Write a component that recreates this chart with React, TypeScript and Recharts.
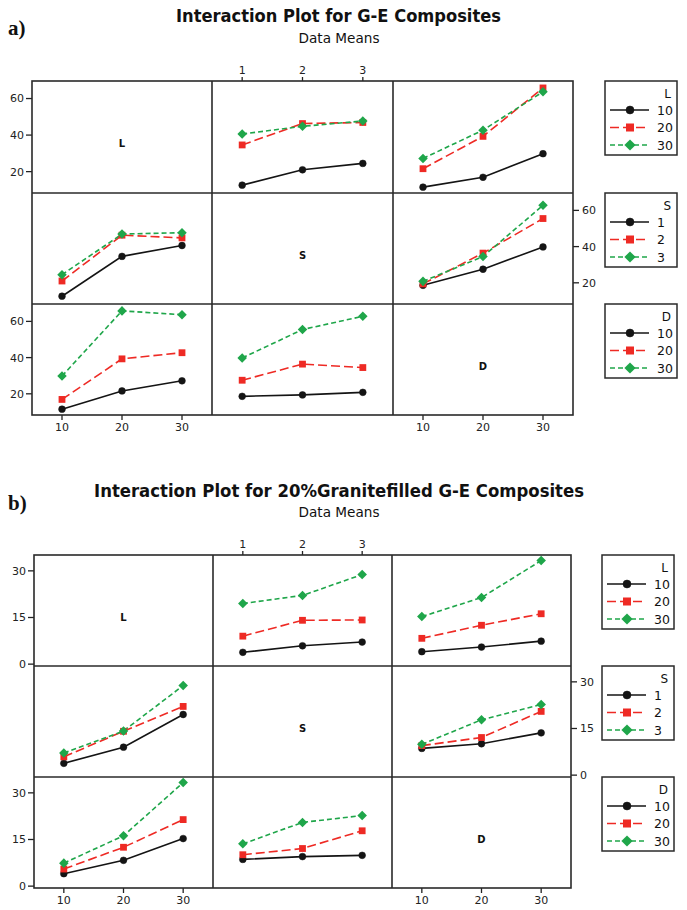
import React from 'react';
import { LineChart, Line, XAxis, YAxis } from 'recharts';

// ---------- data ----------
const factorNames = ['L', 'S', 'D'];
const levelsL = [10, 20, 30];
const levelsS = [1, 2, 3];
const levelsD = [10, 20, 30];
const factorLevels = [levelsL, levelsS, levelsD];

// a) G-E composites – cell means (rows: first factor level, cols: second factor level)
const aMeansLS = [[12.6, 21.0, 24.5], [34.6, 46.3, 46.9], [40.6, 44.8, 47.7]];
const aMeansLD = [[11.5, 16.9, 29.8], [21.6, 39.3, 65.8], [27.2, 42.7, 63.7]];
const aMeansSD = [[18.6, 27.5, 39.8], [19.4, 36.4, 55.5], [20.8, 34.5, 62.8]];
const aYTicks = [20, 40, 60];
const aYDomain = [8.3, 69.6];

// b) 20% granite filled G-E composites
const bMeansLS = [[3.8, 5.9, 7.1], [9.0, 14.1, 14.2], [19.5, 22.1, 28.8]];
const bMeansLD = [[4.0, 5.5, 7.4], [8.3, 12.5, 16.2], [15.3, 21.4, 33.3]];
const bMeansSD = [[8.6, 10.1, 13.6], [9.5, 12.1, 20.5], [9.9, 17.8, 22.7]];
const bYTicks = [0, 15, 30];
const bYDomain = [-0.6, 35.1];

const titleA = 'Interaction Plot for G-E Composites';
const titleB = 'Interaction Plot for 20%Granitefilled G-E Composites';
const subTitle = 'Data Means';

// ---------- styles ----------
const FONT = '"DejaVu Sans", Verdana, sans-serif';
const seriesColors = ['#141414', '#ee2a24', '#1fa64a'];
const seriesDashes = ['', '9 4', '5 3'];
const seriesShapes = ['circle', 'square', 'diamond'];
const frameColor = '#2a2a2a';

type Fig = {
  tables: Record<string, number[][]>;
  colEdges: number[];
  rowEdges: number[];
  yDomain: number[];
  yTicks: number[];
  title: string;
  titleX: number;
  titleW: number;
  titleY: number;
  subY: number;
  tag: string;
  tagY: number;
  legendX: number;
};

const figures: Fig[] = [
  {
    tables: { '01': aMeansLS, '02': aMeansLD, '12': aMeansSD },
    colEdges: [32, 212, 393, 573],
    rowEdges: [81, 193, 304, 415],
    yDomain: aYDomain,
    yTicks: aYTicks,
    title: titleA,
    titleX: 176,
    titleW: 325,
    titleY: 22,
    subY: 43,
    tag: 'a)',
    tagY: 35,
    legendX: 605,
  },
  {
    tables: { '01': bMeansLS, '02': bMeansLD, '12': bMeansSD },
    colEdges: [34, 213, 392, 571],
    rowEdges: [555, 666, 777, 888],
    yDomain: bYDomain,
    yTicks: bYTicks,
    title: titleB,
    titleX: 94,
    titleW: 490,
    titleY: 497,
    subY: 517,
    tag: 'b)',
    tagY: 510,
    legendX: 602,
  },
];

function lookup(tables: Record<string, number[][]>, r: number, i: number, c: number, j: number) {
  if (r < c) return tables[`${r}${c}`][i][j];
  return tables[`${c}${r}`][j][i];
}

function Marker({ cx, cy, shape, color, size }: any) {
  if (shape === 'circle') return <circle cx={cx} cy={cy} r={size} fill={color} stroke={color} strokeWidth={0.5} />;
  if (shape === 'square')
    return <rect x={cx - size} y={cy - size} width={2 * size} height={2 * size} fill={color} />;
  const d = size * 1.4;
  return <polygon points={`${cx},${cy - d} ${cx + d},${cy} ${cx},${cy + d} ${cx - d},${cy}`} fill={color} />;
}

const tickStyle = { fontSize: 11, fill: '#222', fontFamily: FONT };
const tickLineStyle = { stroke: '#222', strokeWidth: 1.3 };
const PAD = 10;

function Cell({ f, r, c }: { f: Fig; r: number; c: number }) {
  const x0 = f.colEdges[c];
  const y0 = f.rowEdges[r];
  const w = f.colEdges[c + 1] - x0;
  const h = f.rowEdges[r + 1] - y0;
  const axisLeft = c === 0 && r !== 1;
  const axisRight = c === 2 && r === 1;
  const axisTop = r === 0 && c === 1;
  const axisBottom = r === 2 && c !== 1;
  const L = axisLeft ? 40 : 0;
  const R = axisRight ? 40 : 0;
  const T = axisTop ? 22 : 0;
  const B = axisBottom ? 24 : 0;
  const xLevels = factorLevels[c];
  const pad = (xLevels[2] - xLevels[0]) / 4;
  const xDomain = [xLevels[0] - pad, xLevels[2] + pad];
  const diag = r === c;
  const data = xLevels.map((xv, j) => {
    const row: any = { x: xv };
    if (!diag) factorLevels[r].forEach((_, i) => (row[`s${i}`] = lookup(f.tables, r, i, c, j)));
    return row;
  });
  return (
    <div style={{ position: 'absolute', left: x0 - L - PAD, top: y0 - T - PAD }}>
      <LineChart
        width={w + L + R + 2 * PAD}
        height={h + T + B + 2 * PAD}
        data={data}
        margin={{ top: PAD, right: PAD, bottom: PAD, left: PAD }}
      >
        <XAxis
          dataKey="x"
          type="number"
          domain={xDomain}
          ticks={xLevels}
          allowDataOverflow
          interval={0}
          orientation={axisTop ? 'top' : 'bottom'}
          hide={!axisTop && !axisBottom}
          height={axisTop ? T : B}
          axisLine={false}
          tickLine={tickLineStyle}
          tickSize={axisTop ? 4 : 5}
          tickMargin={axisTop ? 3 : 3}
          tick={tickStyle}
        />
        <YAxis
          type="number"
          domain={f.yDomain}
          ticks={f.yTicks}
          allowDataOverflow
          interval={0}
          orientation={axisRight ? 'right' : 'left'}
          hide={!axisLeft && !axisRight}
          width={axisLeft ? L : R}
          axisLine={false}
          tickLine={tickLineStyle}
          tickSize={6}
          tickMargin={axisRight ? 3 : 2}
          tick={tickStyle}
        />
        {!diag &&
          factorLevels[r].map((_, i) => (
            <Line
              key={i}
              dataKey={`s${i}`}
              type="linear"
              stroke={seriesColors[i]}
              strokeWidth={1.6}
              strokeDasharray={seriesDashes[i] || undefined}
              isAnimationActive={false}
              dot={(p: any) => (
                <Marker key={`d${i}-${p.index}`} cx={p.cx} cy={p.cy} shape={seriesShapes[i]} color={seriesColors[i]} size={3.4} />
              )}
              activeDot={false}
            />
          ))}
      </LineChart>
    </div>
  );
}

function Overlay({ f }: { f: Fig }) {
  const [x0, x1, x2, x3] = f.colEdges;
  const [y0, y1, y2, y3] = f.rowEdges;
  const centerX = 339;
  return (
    <g>
      <text x={8} y={f.tagY} fontFamily='"Liberation Serif", "DejaVu Serif", serif' fontWeight="bold" fontSize={21} fill="#111">
        {f.tag}
      </text>
      <text
        x={f.titleX}
        y={f.titleY}
        fontFamily={FONT}
        fontWeight="bold"
        fontSize={17}
        textLength={f.titleW}
        lengthAdjust="spacingAndGlyphs"
        fill="#111"
      >
        {f.title}
      </text>
      <text x={centerX} y={f.subY} textAnchor="middle" fontFamily={FONT} fontSize={13.5} textLength={81} lengthAdjust="spacingAndGlyphs" fill="#111">
        {subTitle}
      </text>
      {/* frame */}
      <rect x={x0} y={y0} width={x3 - x0} height={y3 - y0} fill="none" stroke={frameColor} strokeWidth={1.6} />
      <line x1={x1} x2={x1} y1={y0} y2={y3} stroke={frameColor} strokeWidth={1.6} />
      <line x1={x2} x2={x2} y1={y0} y2={y3} stroke={frameColor} strokeWidth={1.6} />
      <line x1={x0} x2={x3} y1={y1} y2={y1} stroke={frameColor} strokeWidth={1.6} />
      <line x1={x0} x2={x3} y1={y2} y2={y2} stroke={frameColor} strokeWidth={1.6} />
      {/* diagonal labels */}
      {factorNames.map((n, k) => (
        <text
          key={n}
          x={(f.colEdges[k] + f.colEdges[k + 1]) / 2}
          y={(f.rowEdges[k] + f.rowEdges[k + 1]) / 2 + 10}
          textAnchor="middle"
          fontFamily={FONT}
          fontWeight="bold"
          fontSize={10}
          fill="#111"
        >
          {n}
        </text>
      ))}
      {/* legends */}
      {factorNames.map((n, k) => {
        const lx = f.legendX;
        const ly = f.rowEdges[k];
        return (
          <g key={`lg${n}`}>
            <rect x={lx} y={ly} width={72} height={74} fill="#fff" stroke={frameColor} strokeWidth={1.5} />
            <text x={lx + 66} y={ly + 17} textAnchor="end" fontFamily={FONT} fontSize={12} fill="#111">
              {n}
            </text>
            {factorLevels[k].map((lev, i) => {
              const cy = ly + 29 + i * 17.5;
              return (
                <g key={i}>
                  <line
                    x1={lx + 5}
                    x2={lx + 44}
                    y1={cy}
                    y2={cy}
                    stroke={seriesColors[i]}
                    strokeWidth={1.6}
                    strokeDasharray={seriesDashes[i] || undefined}
                  />
                  <Marker cx={lx + 25} cy={cy} shape={seriesShapes[i]} color={seriesColors[i]} size={4} />
                  <text x={lx + 52} y={cy + 4.5} fontFamily={FONT} fontSize={12.5} fill="#111">
                    {lev}
                  </text>
                </g>
              );
            })}
          </g>
        );
      })}
    </g>
  );
}

export default function App() {
  return (
    <div
      style={{
        position: 'absolute',
        left: 0,
        top: 0,
        width: 687,
        height: 910,
        background: '#fff',
        overflow: 'hidden',
        fontFamily: FONT,
      }}
    >
      {figures.map((f, fi) =>
        [0, 1, 2].map((r) => [0, 1, 2].map((c) => <Cell key={`${fi}-${r}-${c}`} f={f} r={r} c={c} />))
      )}
      <svg width={687} height={910} style={{ position: 'absolute', left: 0, top: 0, pointerEvents: 'none' }}>
        {figures.map((f, fi) => (
          <Overlay key={fi} f={f} />
        ))}
      </svg>
    </div>
  );
}
